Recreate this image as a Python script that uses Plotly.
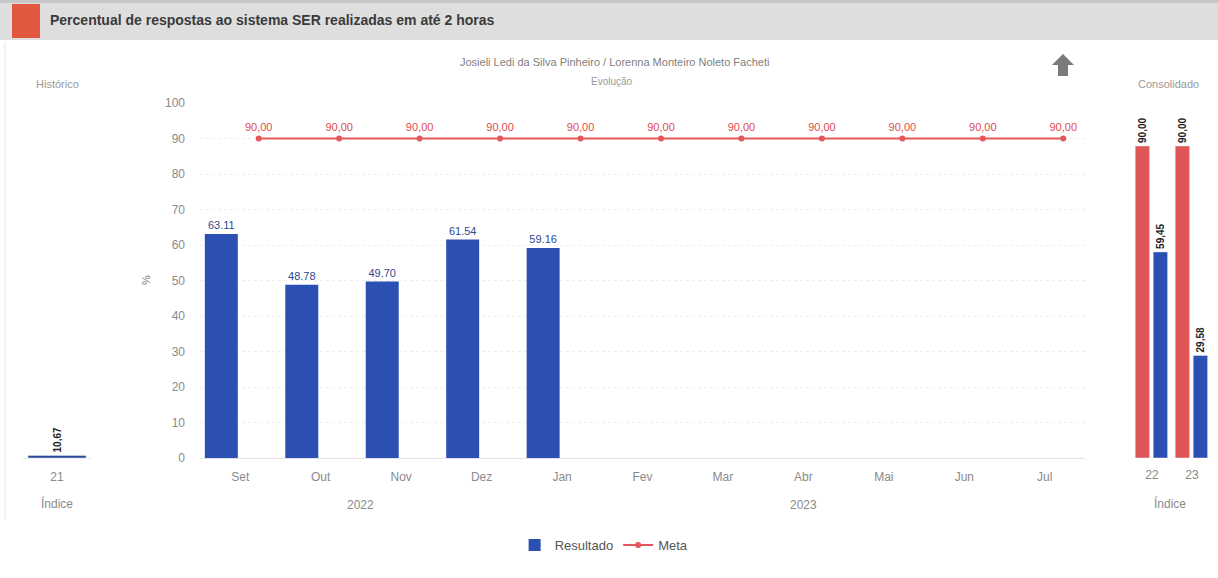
import plotly.graph_objects as go

# ---------------- data ----------------
months = ["Set", "Out", "Nov", "Dez", "Jan", "Fev", "Mar", "Abr", "Mai", "Jun", "Jul"]
years = ["2022", "2022", "2022", "2022", "2023", "2023", "2023", "2023", "2023", "2023", "2023"]
resultado = [63.11, 48.78, 49.70, 61.54, 59.16, None, None, None, None, None, None]
meta = [90.00, 90.00, 90.00, 90.00, 90.00, 90.00, 90.00, 90.00, 90.00, 90.00, 90.00]

hist_cat = ["21"]
hist_val = [10.67]

cons_cat = ["22", "23"]
cons_meta = [90.00, 90.00]
cons_res = [59.45, 29.58]

y_ticks = [0, 10, 20, 30, 40, 50, 60, 70, 80, 90, 100]

# ---------------- helpers ----------------
W, H = 1218, 578
def px(x):
    return x / W
def py(y):
    return 1 - y / H

BLUE = "#2b4fb3"
RED = "#e5575a"
GRAY = "#8a8a8a"
FONT = "Liberation Sans, Arial, sans-serif"

def br(v):
    return "" if v is None else f"{v:.2f}".replace(".", ",")

xs = list(range(len(months)))

fig = go.Figure()

# main bars (Resultado)
fig.add_trace(go.Bar(
    x=xs, y=resultado, name="Resultado",
    marker=dict(color=BLUE, line=dict(width=0)),
    width=0.41, offset=-0.44,
    text=["" if v is None else f"{v:.2f}" for v in resultado],
    textposition="outside", textfont=dict(color="#2d4a8f", size=11, family=FONT),
    cliponaxis=False, constraintext="none",
    xaxis="x", yaxis="y",
))

# Meta line
fig.add_trace(go.Scatter(
    x=[i + 0.23 for i in xs], y=meta, name="Meta",
    mode="lines+markers+text",
    line=dict(color=RED, width=2),
    marker=dict(color=RED, size=6, symbol="circle"),
    text=[br(v) for v in meta], textposition="top center",
    textfont=dict(color="#dd4b4e", size=11, family=FONT),
    cliponaxis=False,
    xaxis="x", yaxis="y",
))

# Histórico panel
fig.add_trace(go.Bar(
    x=hist_cat, y=hist_val, showlegend=False,
    marker=dict(color="#2a4a9a"), width=0.83,
    text=[br(v) for v in hist_val], textposition="outside", textangle=-90,
    textfont=dict(color="#222", size=10, family=FONT, weight="bold"),
    cliponaxis=False, constraintext="none",
    xaxis="x2", yaxis="y2",
))

# Consolidado panel
fig.add_trace(go.Bar(
    x=cons_cat, y=cons_meta, showlegend=False,
    marker=dict(color="#e05656"), width=0.36, offset=-0.42,
    text=[br(v) for v in cons_meta], textposition="outside", textangle=-90,
    textfont=dict(color="#222", size=10, family=FONT, weight="bold"),
    cliponaxis=False, constraintext="none",
    xaxis="x3", yaxis="y3",
))
fig.add_trace(go.Bar(
    x=cons_cat, y=cons_res, showlegend=False,
    marker=dict(color=BLUE), width=0.36, offset=0.03,
    text=[br(v) for v in cons_res], textposition="outside", textangle=-90,
    textfont=dict(color="#222", size=10, family=FONT, weight="bold"),
    cliponaxis=False, constraintext="none",
    xaxis="x3", yaxis="y3",
))

ydom = [py(458), py(103)]

fig.update_layout(
    width=W, height=H, autosize=False,
    margin=dict(l=0, r=0, t=0, b=0, pad=0, autoexpand=False),
    paper_bgcolor="white", plot_bgcolor="white",
    font=dict(family=FONT, color=GRAY, size=12),
    barmode="overlay",
    showlegend=True,
    legend=dict(orientation="h", x=0.496, xanchor="center", y=py(545), yanchor="middle",
                font=dict(size=13, color="#555"), bgcolor="rgba(0,0,0,0)"),
    xaxis=dict(domain=[px(200), px(1085)], range=[-0.5, 10.5], automargin=False,
               tickmode="array", tickvals=xs, ticktext=months,
               showgrid=False, zeroline=False, showline=True, linecolor="#e3e3e3",
               ticks="", ticklabelstandoff=8,
               tickfont=dict(size=12, color=GRAY)),
    yaxis=dict(domain=ydom, range=[0, 100], tickmode="array", tickvals=y_ticks, automargin=False,
               showgrid=True, gridcolor="#efefef", griddash="dot", zeroline=False,
               ticks="", ticklabelstandoff=14, tickfont=dict(size=12, color=GRAY)),
    xaxis2=dict(domain=[px(22), px(92)], type="category", showgrid=False, zeroline=False,
                automargin=False,
                showline=True, linecolor="#eeeeee", ticks="", ticklabelstandoff=8,
                tickfont=dict(size=12, color=GRAY), anchor="y2"),
    yaxis2=dict(domain=ydom, range=[0, 1500], visible=False, anchor="x2", automargin=False),
    xaxis3=dict(domain=[px(1132), px(1212)], type="category", showgrid=False, zeroline=False,
                automargin=False,
                showline=False, ticks="", ticklabelstandoff=8,
                tickfont=dict(size=12, color=GRAY), anchor="y3"),
    yaxis3=dict(domain=ydom, range=[0, 102.4], visible=False, anchor="x3", automargin=False),
)

shapes = []
# title band
shapes.append(dict(type="rect", xref="paper", yref="paper", x0=0, x1=1, y0=py(40), y1=1,
                   fillcolor="#dedede", line=dict(width=0), layer="below"))
shapes.append(dict(type="rect", xref="paper", yref="paper", x0=0, x1=1, y0=py(3), y1=1,
                   fillcolor="#c6c6c6", line=dict(width=0), layer="below"))
shapes.append(dict(type="rect", xref="paper", yref="paper", x0=px(12), x1=px(40), y0=py(38), y1=py(4),
                   fillcolor="#e2583e", line=dict(width=0)))
# left faint border
shapes.append(dict(type="line", xref="paper", yref="paper", x0=px(5), x1=px(5), y0=py(520), y1=py(42),
                   line=dict(color="#e6e6e6", width=1)))
# up arrow icon
pts = [(1063, 54), (1074, 65), (1068, 65), (1068, 76), (1058, 76), (1058, 65), (1052, 65)]
path = "M " + " L ".join(f"{px(a):.5f},{py(b):.5f}" for a, b in pts) + " Z"
shapes.append(dict(type="path", xref="paper", yref="paper", path=path,
                   fillcolor="#7a7a7a", line=dict(width=0)))
fig.update_layout(shapes=shapes)

ann = []
ann.append(dict(text="<b>Percentual de respostas ao sistema SER realizadas em até 2 horas</b>",
                x=px(48), y=py(20), xref="paper", yref="paper", xanchor="left", yanchor="middle",
                showarrow=False, font=dict(size=14, color="#3a3a3a", family=FONT)))
ann.append(dict(text="Josieli Ledi da Silva Pinheiro / Lorenna Monteiro Noleto Facheti",
                x=px(614), y=py(62), xref="paper", yref="paper", xanchor="center", yanchor="middle",
                showarrow=False, font=dict(size=11, color="#808080")))
ann.append(dict(text="Evolução", x=px(612), y=py(82), xref="paper", yref="paper",
                xanchor="center", yanchor="middle", showarrow=False, font=dict(size=10, color="#999")))
ann.append(dict(text="Histórico", x=px(57), y=py(84), xref="paper", yref="paper",
                xanchor="center", yanchor="middle", showarrow=False, font=dict(size=11, color="#999")))
ann.append(dict(text="Consolidado", x=px(1168), y=py(84), xref="paper", yref="paper",
                xanchor="center", yanchor="middle", showarrow=False, font=dict(size=11, color="#999")))
ann.append(dict(text="%", x=px(146), y=py(280), xref="paper", yref="paper", textangle=-90,
                xanchor="center", yanchor="middle", showarrow=False, font=dict(size=11, color="#777")))
ann.append(dict(text="Índice", x=px(57), y=py(503), xref="paper", yref="paper",
                xanchor="center", yanchor="middle", showarrow=False, font=dict(size=12, color=GRAY)))
ann.append(dict(text="Índice", x=px(1170), y=py(503), xref="paper", yref="paper",
                xanchor="center", yanchor="middle", showarrow=False, font=dict(size=12, color=GRAY)))
# year group labels, centred on their months
for yr in sorted(set(years)):
    idx = [i for i, v in enumerate(years) if v == yr]
    ann.append(dict(text=yr, x=(idx[0] + idx[-1]) / 2, y=py(505), xref="x", yref="paper",
                    xanchor="center", yanchor="middle", showarrow=False,
                    font=dict(size=12, color=GRAY)))
fig.update_layout(annotations=ann)

post = ("var gd=document.getElementById('{plot_id}');"
        "gd.style.position='fixed';gd.style.top='0px';gd.style.left='0px';"
        "document.body.style.margin='0px';"
        "document.documentElement.style.overflow='hidden';document.body.style.overflow='hidden';")

fig.write_html("out.html", config={"responsive": False, "displayModeBar": False},
               post_script=post)
